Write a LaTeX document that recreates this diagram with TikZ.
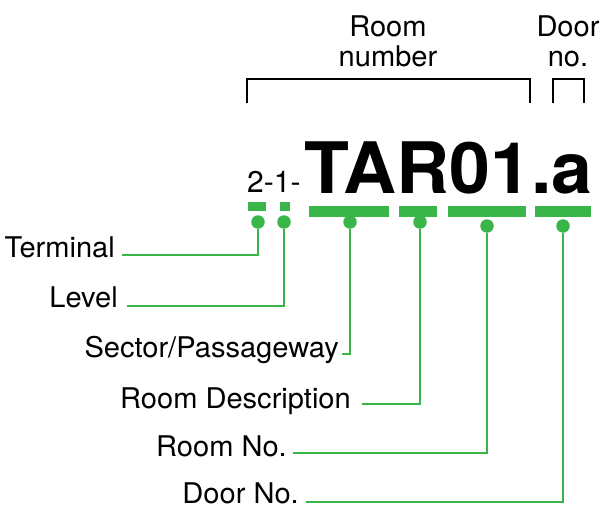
\documentclass[tikz,border=0pt]{standalone}
\usepackage{fontspec}
\setmainfont{TeX Gyre Heros}
\newfontfamily\lblfont[FakeStretch=1.02]{TeX Gyre Heros}
\newfontfamily\codefont[FakeStretch=1.035]{TeX Gyre Heros}
\definecolor{lgreen}{RGB}{58,181,74}
\tikzset{
  lbl/.style={inner sep=0pt, font=\lblfont\fontsize{28.5}{30}\selectfont},
  bar/.style={fill=lgreen, draw=none, inner sep=0pt, minimum height=10pt},
  dot/.style={circle, fill=lgreen, draw=none, inner sep=0pt, minimum size=13.5pt},
  conn/.style={draw=lgreen, line width=2.2pt},
  brk/.style={draw=black, line width=2.6pt}
}
\begin{document}
\begin{tikzpicture}[x=1pt,y=-1pt]
\useasboundingbox (0,0) rectangle (602,508);
% top labels
\node[lbl, align=center, anchor=north] (roomnum) at (388,16) {Room\\number};
\node[lbl, align=center, anchor=north] (doorlbl) at (568,16) {Door\\no.};
% brackets
\coordinate (rb1) at (247,103); \coordinate (rb2) at (530,103);
\coordinate (db1) at (553,103); \coordinate (db2) at (584,103);
\draw[brk] (rb1) |- (530,79) -- (rb2);
\draw[brk] (db1) |- (584,79) -- (db2);
% main code
\node[inner sep=0pt, anchor=base west, font=\fontsize{30}{32}\selectfont] (pre) at (247,192) {2-1-};
\node[inner sep=0pt, anchor=base west, font=\codefont\fontsize{71}{72}\selectfont\bfseries] (code) at (304.5,193) {TAR01.a};
% bars
\node[bar, minimum width=18pt, minimum height=9pt, anchor=north west] (b1) at (248,202) {};
\node[bar, minimum width=9.5pt, minimum height=9pt, anchor=north west] (b2) at (280,202) {};
\node[bar, minimum width=80pt, minimum height=10.5pt, anchor=north west] (b3) at (309,206) {};
\node[bar, minimum width=38pt, minimum height=10.5pt, anchor=north west] (b4) at (399,206) {};
\node[bar, minimum width=78pt, minimum height=10.5pt, anchor=north west] (b5) at (448,206) {};
\node[bar, minimum width=56pt, minimum height=10.5pt, anchor=north west] (b6) at (535,206) {};
% labels
\node[lbl, anchor=base east] (term) at (115,257) {Terminal};
\node[lbl, anchor=base east] (level) at (118,307) {Level};
\node[lbl, anchor=base east] (sector) at (339,357) {Sector/Passageway};
\node[lbl, anchor=base east] (rdesc) at (351,408) {Room Description};
\node[lbl, anchor=base east] (rno) at (287,456) {Room No.};
\node[lbl, anchor=base east] (dno) at (299,503) {Door No.};
% dots
\node[dot] (d1) at (258,222) {};
\node[dot] (d2) at (284,222) {};
\node[dot] (d3) at (350,222) {};
\node[dot] (d4) at (420,222) {};
\node[dot] (d5) at (487,226) {};
\node[dot] (d6) at (563,226) {};
% connectors
\draw[conn] (d1) |- ([shift={(7,-2)}]term.base east);
\draw[conn] (d2) |- ([shift={(9,-1)}]level.base east);
\draw[conn] (d3) |- ([shift={(3,-3)}]sector.base east);
\draw[conn] (d4) |- ([shift={(11,-4)}]rdesc.base east);
\draw[conn] (d5) |- ([shift={(6,-3)}]rno.base east);
\draw[conn] (d6) |- ([shift={(7,-1)}]dno.base east);
\end{tikzpicture}
\end{document}
